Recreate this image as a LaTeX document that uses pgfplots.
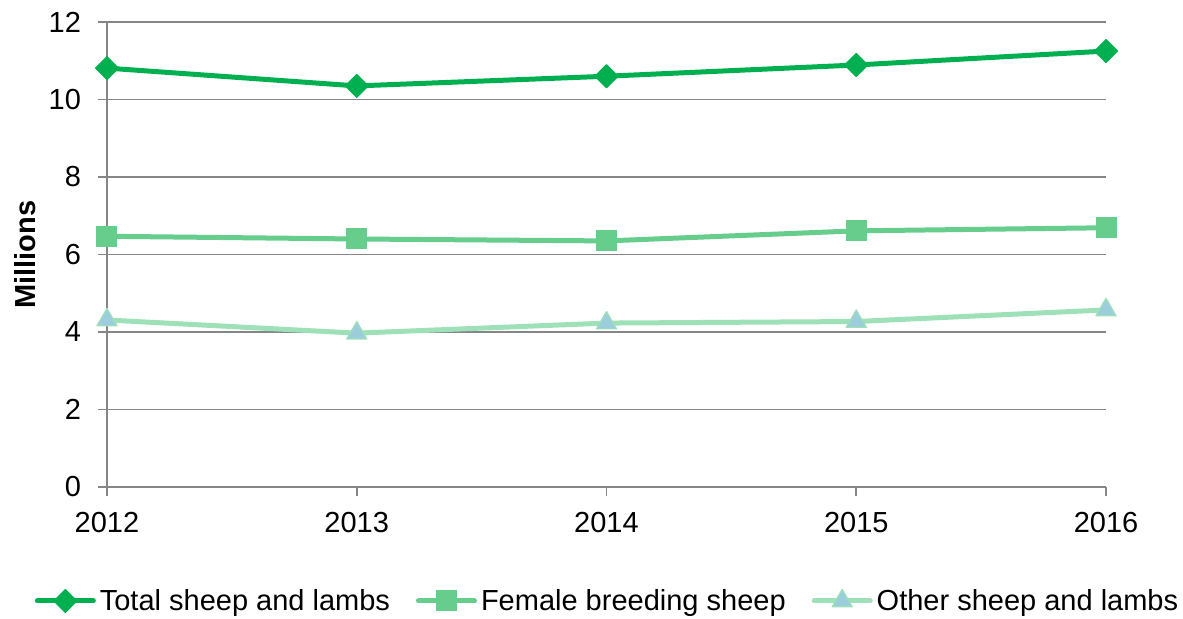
\documentclass[border=0pt]{standalone}
\usepackage{pgfplots}
\pgfplotsset{compat=1.18}
\usepackage{fontspec}
\setmainfont{Liberation Sans}
\definecolor{ctotal}{RGB}{0,176,80}
\definecolor{cfemale}{RGB}{102,205,140}
\definecolor{cother}{RGB}{158,224,183}
\definecolor{cotherfill}{RGB}{155,205,220}
\definecolor{cgrid}{RGB}{134,134,134}
\begin{document}
\begin{tikzpicture}
\useasboundingbox (-53.5pt,-66pt) rectangle (538pt,243.5pt);
\begin{axis}[
  at={(0pt,0pt)}, anchor=south west,
  scale only axis,
  width=499.5pt, height=232.5pt,
  xmin=2012, xmax=2016, ymin=0, ymax=12,
  xtick={2012,2013,2014,2015,2016},
  ytick={0,2,4,6,8,10,12},
  /pgf/number format/1000 sep={},
  /pgf/number format/assume math mode=true,
  axis x line*=bottom, axis y line*=left,
  axis line style={cgrid, line width=0.8pt, -},
  ymajorgrids,
  grid style={cgrid, line width=0.8pt},
  tick align=outside,
  major tick length=4.5pt,
  tick style={cgrid, line width=0.8pt},
  ticklabel style={font=\fontsize{14.5}{17}\selectfont},
  yticklabel style={xshift=-5pt},
  xticklabel style={yshift=-4.5pt},
  ylabel={\textbf{Millions}},
  every axis y label/.style={at={([xshift=-41pt]axis description cs:0,0.5)}, rotate=90, anchor=center, font=\fontsize{14.5}{17}\selectfont},
  clip=false,
  legend columns=3,
  legend style={at={([yshift=-57pt]axis description cs:0.5,0)}, anchor=center, draw=none,
    font=\fontsize{14.5}{17}\selectfont,
    nodes={inner sep=0pt},
    /tikz/every odd column/.append style={column sep=2pt},
    /tikz/every even column/.append style={column sep=13pt}},
  legend image code/.code={\draw[mark repeat=2,mark phase=2,#1] plot coordinates {(0pt,0pt) (14pt,0pt) (28pt,0pt)};},
  every axis plot/.append style={line width=2.5pt, line join=round, line cap=round},
]
\addplot[color=ctotal, mark=square*, mark size=4.1pt, mark options={rotate=45, line width=0.5pt, fill=ctotal}]
  coordinates {(2012,10.81) (2013,10.35) (2014,10.60) (2015,10.89) (2016,11.25)};
\addlegendentry{Total sheep and lambs}
\addplot[color=cfemale, mark=square*, mark size=5pt, mark options={line width=0.5pt, fill=cfemale}]
  coordinates {(2012,6.47) (2013,6.40) (2014,6.35) (2015,6.61) (2016,6.69)};
\addlegendentry{Female breeding sheep}
\addplot[color=cother, mark=triangle*, mark size=5.8pt, mark options={line width=0.6pt, draw=cother, fill=cotherfill}]
  coordinates {(2012,4.31) (2013,3.97) (2014,4.23) (2015,4.27) (2016,4.57)};
\addlegendentry{Other sheep and lambs}
\end{axis}
\end{tikzpicture}
\end{document}
